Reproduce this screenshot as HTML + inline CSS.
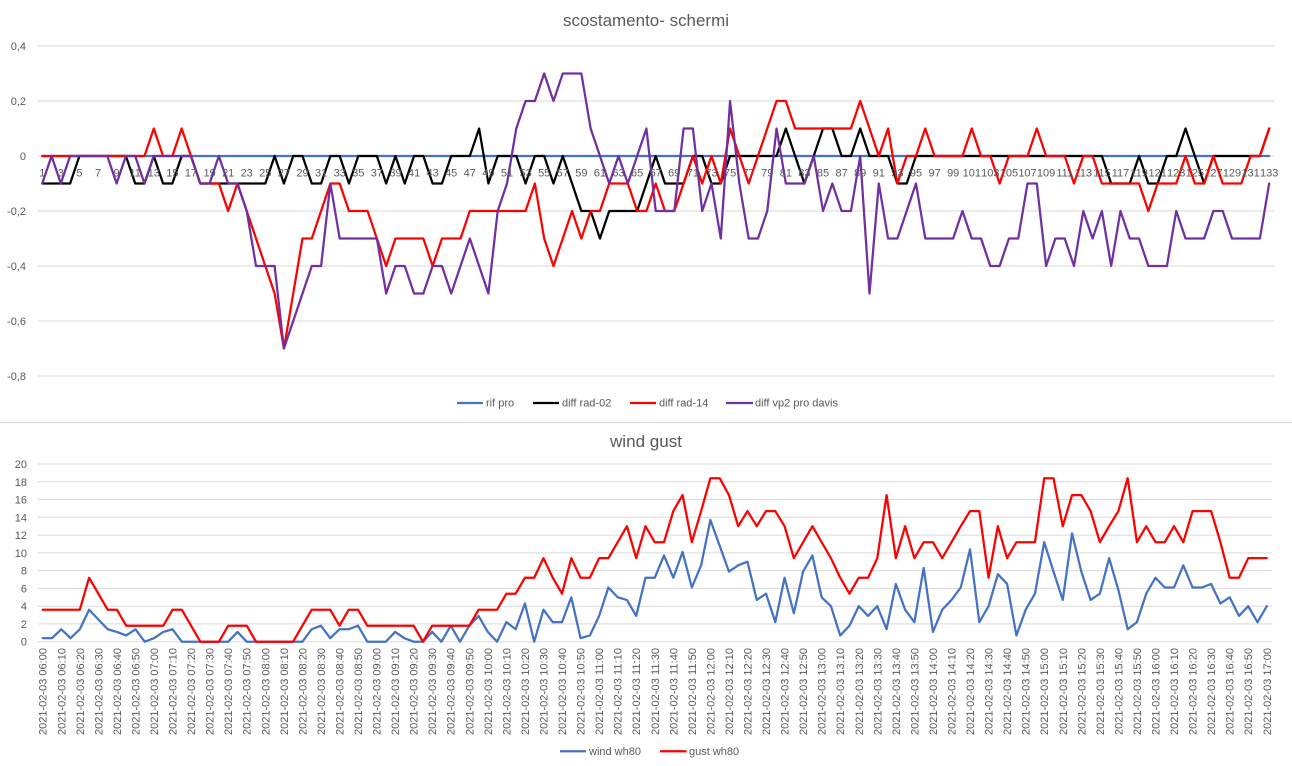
<!DOCTYPE html>
<html><head><meta charset="utf-8"><style>
html,body{margin:0;padding:0;background:#fff;}
svg{display:block;font-family:"Liberation Sans",sans-serif;}
.t{fill:#595959;}
.g{stroke:#D9D9D9;stroke-width:1;}
.s{fill:none;stroke-width:2.25;stroke-linejoin:round;stroke-linecap:round;vector-effect:non-scaling-stroke;}
</style></head><body>
<svg width="1292" height="766" viewBox="0 0 1292 766" xmlns="http://www.w3.org/2000/svg">
<rect width="1292" height="766" fill="#fff"/>
<!-- TOP CHART -->
<text class="t" x="646" y="26" font-size="17" text-anchor="middle" textLength="166" lengthAdjust="spacingAndGlyphs">scostamento- schermi</text>
<g class="g">
<line x1="38" y1="46" x2="1274" y2="46"/><line x1="38" y1="101" x2="1274" y2="101"/><line x1="38" y1="156" x2="1274" y2="156"/><line x1="38" y1="211" x2="1274" y2="211"/><line x1="38" y1="266" x2="1274" y2="266"/><line x1="38" y1="321" x2="1274" y2="321"/><line x1="38" y1="376" x2="1274" y2="376"/>
</g>
<g class="t" font-size="11" text-anchor="end">
<text x="26" y="50">0,4</text><text x="26" y="105">0,2</text><text x="26" y="160">0</text><text x="26" y="215">-0,2</text><text x="26" y="270">-0,4</text><text x="26" y="325">-0,6</text><text x="26" y="380">-0,8</text>
</g>
<g transform="matrix(9.295 0 0 -275 32.95 156)">
<polyline class="s" stroke="#4472C4" points="1,0 133,0"/>
<polyline class="s" stroke="#000000" points="1,-0.1 4,-0.1 5,0 10,0 11,-0.1 12,-0.1 13,0 14,-0.1 15,-0.1 16,0 17,0 18,-0.1 25,-0.1 26,0 27,-0.1 28,0 29,0 30,-0.1 31,-0.1 32,0 33,0 34,-0.1 35,0 37,0 38,-0.1 39,0 40,-0.1 41,0 42,0 43,-0.1 44,-0.1 45,0 47,0 48,0.1 49,-0.1 50,0 52,0 53,-0.1 54,0 55,0 56,-0.1 57,0 58,-0.1 59,-0.2 60,-0.2 61,-0.3 62,-0.2 65,-0.2 66,-0.1 67,0 68,-0.1 70,-0.1 71,0 72,0 73,-0.1 74,-0.1 75,0 80,0 81,0.1 82,0 83,-0.1 84,0 85,0.1 86,0.1 87,0 88,0 89,0.1 90,0 92,0 93,-0.1 94,-0.1 95,0 115,0 116,-0.1 118,-0.1 119,0 120,-0.1 121,-0.1 122,0 123,0 124,0.1 125,0 126,-0.1 127,0 132,0 133,0.1"/>
<polyline class="s" stroke="#FF0000" points="1,0 12,0 13,0.1 14,0 15,0 16,0.1 17,0 18,-0.1 20,-0.1 21,-0.2 22,-0.1 23,-0.2 24,-0.3 25,-0.4 26,-0.5 27,-0.7 28,-0.5 29,-0.3 30,-0.3 31,-0.2 32,-0.1 33,-0.1 34,-0.2 36,-0.2 37,-0.3 38,-0.4 39,-0.3 42,-0.3 43,-0.4 44,-0.3 46,-0.3 47,-0.2 53,-0.2 54,-0.1 55,-0.3 56,-0.4 57,-0.3 58,-0.2 59,-0.3 60,-0.2 61,-0.2 62,-0.1 64,-0.1 65,-0.2 66,-0.2 67,-0.1 68,-0.2 69,-0.2 70,-0.1 71,0 72,-0.1 73,0 74,-0.1 75,0.1 76,0 77,-0.1 78,0 79,0.1 80,0.2 81,0.2 82,0.1 88,0.1 89,0.2 90,0.1 91,0 92,0.1 93,-0.1 94,0 95,0 96,0.1 97,0 100,0 101,0.1 102,0 103,0 104,-0.1 105,0 107,0 108,0.1 109,0 111,0 112,-0.1 113,0 114,0 115,-0.1 119,-0.1 120,-0.2 121,-0.1 123,-0.1 124,0 125,-0.1 126,-0.1 127,0 128,-0.1 130,-0.1 131,0 132,0 133,0.1"/>
<polyline class="s" stroke="#7030A0" points="1,-0.1 2,0 3,-0.1 4,0 8,0 9,-0.1 10,0 11,0 12,-0.1 13,0 17,0 18,-0.1 19,-0.1 20,0 21,-0.1 22,-0.1 23,-0.2 24,-0.4 26,-0.4 27,-0.7 28,-0.6 29,-0.5 30,-0.4 31,-0.4 32,-0.1 33,-0.3 37,-0.3 38,-0.5 39,-0.4 40,-0.4 41,-0.5 42,-0.5 43,-0.4 44,-0.4 45,-0.5 46,-0.4 47,-0.3 48,-0.4 49,-0.5 50,-0.2 51,-0.1 52,0.1 53,0.2 54,0.2 55,0.3 56,0.2 57,0.3 59,0.3 60,0.1 61,0 62,-0.1 63,0 64,-0.1 65,0 66,0.1 67,-0.2 69,-0.2 70,0.1 71,0.1 72,-0.2 73,-0.1 74,-0.3 75,0.2 76,-0.1 77,-0.3 78,-0.3 79,-0.2 80,0.1 81,-0.1 83,-0.1 84,0 85,-0.2 86,-0.1 87,-0.2 88,-0.2 89,0 90,-0.5 91,-0.1 92,-0.3 93,-0.3 94,-0.2 95,-0.1 96,-0.3 99,-0.3 100,-0.2 101,-0.3 102,-0.3 103,-0.4 104,-0.4 105,-0.3 106,-0.3 107,-0.1 108,-0.1 109,-0.4 110,-0.3 111,-0.3 112,-0.4 113,-0.2 114,-0.3 115,-0.2 116,-0.4 117,-0.2 118,-0.3 119,-0.3 120,-0.4 122,-0.4 123,-0.2 124,-0.3 126,-0.3 127,-0.2 128,-0.2 129,-0.3 132,-0.3 133,-0.1"/>
</g>
<g class="t" font-size="11" text-anchor="middle">
<text x="42.3" y="176.5">1</text><text x="60.8" y="176.5">3</text><text x="79.4" y="176.5">5</text><text x="98" y="176.5">7</text><text x="116.6" y="176.5">9</text><text x="135.2" y="176.5">11</text><text x="153.8" y="176.5">13</text><text x="172.4" y="176.5">15</text><text x="191" y="176.5">17</text><text x="209.6" y="176.5">19</text><text x="228.2" y="176.5">21</text><text x="246.7" y="176.5">23</text><text x="265.3" y="176.5">25</text><text x="283.9" y="176.5">27</text><text x="302.5" y="176.5">29</text><text x="321.1" y="176.5">31</text><text x="339.7" y="176.5">33</text><text x="358.3" y="176.5">35</text><text x="376.9" y="176.5">37</text><text x="395.5" y="176.5">39</text><text x="414.1" y="176.5">41</text><text x="432.6" y="176.5">43</text><text x="451.2" y="176.5">45</text><text x="469.8" y="176.5">47</text><text x="488.4" y="176.5">49</text><text x="507" y="176.5">51</text><text x="525.6" y="176.5">53</text><text x="544.2" y="176.5">55</text><text x="562.8" y="176.5">57</text><text x="581.4" y="176.5">59</text><text x="600" y="176.5">61</text><text x="618.5" y="176.5">63</text><text x="637.1" y="176.5">65</text><text x="655.7" y="176.5">67</text><text x="674.3" y="176.5">69</text><text x="692.9" y="176.5">71</text><text x="711.5" y="176.5">73</text><text x="730.1" y="176.5">75</text><text x="748.7" y="176.5">77</text><text x="767.3" y="176.5">79</text><text x="785.9" y="176.5">81</text><text x="804.4" y="176.5">83</text><text x="823" y="176.5">85</text><text x="841.6" y="176.5">87</text><text x="860.2" y="176.5">89</text><text x="878.8" y="176.5">91</text><text x="897.4" y="176.5">93</text><text x="916" y="176.5">95</text><text x="934.6" y="176.5">97</text><text x="953.2" y="176.5">99</text><text x="971.8" y="176.5">101</text><text x="990.3" y="176.5">103</text><text x="1008.9" y="176.5">105</text><text x="1027.5" y="176.5">107</text><text x="1046.1" y="176.5">109</text><text x="1064.7" y="176.5">111</text><text x="1083.3" y="176.5">113</text><text x="1101.9" y="176.5">115</text><text x="1120.5" y="176.5">117</text><text x="1139.1" y="176.5">119</text><text x="1157.7" y="176.5">121</text><text x="1176.2" y="176.5">123</text><text x="1194.8" y="176.5">125</text><text x="1213.4" y="176.5">127</text><text x="1232" y="176.5">129</text><text x="1250.6" y="176.5">131</text><text x="1269.2" y="176.5">133</text>
</g>
<!-- top legend -->
<g stroke-width="2.25">
<line x1="457" y1="403" x2="483" y2="403" stroke="#4472C4"/>
<line x1="533" y1="403" x2="559" y2="403" stroke="#000000"/>
<line x1="630" y1="403" x2="656" y2="403" stroke="#FF0000"/>
<line x1="726" y1="403" x2="753" y2="403" stroke="#7030A0"/>
</g>
<g class="t" font-size="11">
<text x="486" y="406.5">rif pro</text>
<text x="562" y="406.5">diff rad-02</text>
<text x="659" y="406.5">diff rad-14</text>
<text x="755" y="406.5">diff vp2 pro davis</text>
</g>
<line x1="0" y1="422.5" x2="1292" y2="422.5" stroke="#D9D9D9" stroke-width="1"/>
<!-- BOTTOM CHART -->
<text class="t" x="646" y="447" font-size="17" text-anchor="middle" textLength="72" lengthAdjust="spacingAndGlyphs">wind gust</text>
<g class="g">
<line x1="38" y1="464" x2="1272" y2="464"/><line x1="38" y1="481.8" x2="1272" y2="481.8"/><line x1="38" y1="499.5" x2="1272" y2="499.5"/><line x1="38" y1="517.3" x2="1272" y2="517.3"/><line x1="38" y1="535.1" x2="1272" y2="535.1"/><line x1="38" y1="552.9" x2="1272" y2="552.9"/><line x1="38" y1="570.6" x2="1272" y2="570.6"/><line x1="38" y1="588.4" x2="1272" y2="588.4"/><line x1="38" y1="606.2" x2="1272" y2="606.2"/><line x1="38" y1="623.9" x2="1272" y2="623.9"/><line x1="38" y1="641.7" x2="1272" y2="641.7"/>
</g>
<g class="t" font-size="11" text-anchor="end">
<text x="27" y="468">20</text><text x="27" y="485.8">18</text><text x="27" y="503.5">16</text><text x="27" y="521.3">14</text><text x="27" y="539.1">12</text><text x="27" y="556.9">10</text><text x="27" y="574.6">8</text><text x="27" y="592.4">6</text><text x="27" y="610.2">4</text><text x="27" y="627.9">2</text><text x="27" y="645.7">0</text>
</g>
<g transform="matrix(9.273 0 0 -8.885 33.46 641.7)">
<polyline class="s" stroke="#4472C4" points="1,0.4 2,0.4 3,1.4 4,0.4 5,1.4 6,3.6 7,2.5 8,1.4 9,1.1 10,0.7 11,1.4 12,0 13,0.4 14,1.1 15,1.4 16,0 21,0 22,1.1 23,0 29,0 30,1.4 31,1.8 32,0.4 33,1.4 34,1.4 35,1.8 36,0 38,0 39,1.1 40,0.4 41,0 42,0 43,1.1 44,0 45,1.8 46,0 47,1.8 48,2.9 49,1.1 50,0 51,2.2 52,1.4 53,4.3 54,0 55,3.6 56,2.2 57,2.2 58,5 59,0.4 60,0.7 61,2.9 62,6.1 63,5 64,4.7 65,2.9 66,7.2 67,7.2 68,9.7 69,7.2 70,10.1 71,6.1 72,8.6 73,13.7 74,10.8 75,7.9 76,8.6 77,9 78,4.7 79,5.4 80,2.2 81,7.2 82,3.2 83,7.9 84,9.7 85,5 86,4 87,0.7 88,1.8 89,4 90,2.9 91,4 92,1.4 93,6.5 94,3.6 95,2.2 96,8.3 97,1.1 98,3.6 99,4.7 100,6.1 101,10.4 102,2.2 103,4 104,7.6 105,6.5 106,0.7 107,3.6 108,5.4 109,11.2 110,7.9 111,4.7 112,12.2 113,7.9 114,4.7 115,5.4 116,9.4 117,5.8 118,1.4 119,2.2 120,5.4 121,7.2 122,6.1 123,6.1 124,8.6 125,6.1 126,6.1 127,6.5 128,4.3 129,5 130,2.9 131,4 132,2.2 133,4"/>
<polyline class="s" stroke="#FF0000" points="1,3.6 5,3.6 6,7.2 7,5.4 8,3.6 9,3.6 10,1.8 14,1.8 15,3.6 16,3.6 17,1.8 18,0 20,0 21,1.8 23,1.8 24,0 28,0 29,1.8 30,3.6 32,3.6 33,1.8 34,3.6 35,3.6 36,1.8 41,1.8 42,0 43,1.8 47,1.8 48,3.6 50,3.6 51,5.4 52,5.4 53,7.2 54,7.2 55,9.4 56,7.2 57,5.4 58,9.4 59,7.2 60,7.2 61,9.4 62,9.4 63,11.2 64,13 65,9.4 66,13 67,11.2 68,11.2 69,14.7 70,16.5 71,11.2 72,14.7 73,18.4 74,18.4 75,16.5 76,13 77,14.7 78,13 79,14.7 80,14.7 81,13 82,9.4 83,11.2 84,13 85,11.2 86,9.4 87,7.2 88,5.4 89,7.2 90,7.2 91,9.4 92,16.5 93,9.4 94,13 95,9.4 96,11.2 97,11.2 98,9.4 99,11.2 100,13 101,14.7 102,14.7 103,7.2 104,13 105,9.4 106,11.2 108,11.2 109,18.4 110,18.4 111,13 112,16.5 113,16.5 114,14.7 115,11.2 116,13 117,14.7 118,18.4 119,11.2 120,13 121,11.2 122,11.2 123,13 124,11.2 125,14.7 127,14.7 128,11.2 129,7.2 130,7.2 131,9.4 133,9.4"/>
</g>
<g class="t" font-size="11" text-anchor="end">
<text transform="translate(46.7 648) rotate(-90)" textLength="87">2021-02-03 06:00</text>
<text transform="translate(65.3 648) rotate(-90)" textLength="87">2021-02-03 06:10</text>
<text transform="translate(83.8 648) rotate(-90)" textLength="87">2021-02-03 06:20</text>
<text transform="translate(102.4 648) rotate(-90)" textLength="87">2021-02-03 06:30</text>
<text transform="translate(120.9 648) rotate(-90)" textLength="87">2021-02-03 06:40</text>
<text transform="translate(139.5 648) rotate(-90)" textLength="87">2021-02-03 06:50</text>
<text transform="translate(158 648) rotate(-90)" textLength="87">2021-02-03 07:00</text>
<text transform="translate(176.6 648) rotate(-90)" textLength="87">2021-02-03 07:10</text>
<text transform="translate(195.1 648) rotate(-90)" textLength="87">2021-02-03 07:20</text>
<text transform="translate(213.7 648) rotate(-90)" textLength="87">2021-02-03 07:30</text>
<text transform="translate(232.2 648) rotate(-90)" textLength="87">2021-02-03 07:40</text>
<text transform="translate(250.7 648) rotate(-90)" textLength="87">2021-02-03 07:50</text>
<text transform="translate(269.3 648) rotate(-90)" textLength="87">2021-02-03 08:00</text>
<text transform="translate(287.8 648) rotate(-90)" textLength="87">2021-02-03 08:10</text>
<text transform="translate(306.4 648) rotate(-90)" textLength="87">2021-02-03 08:20</text>
<text transform="translate(324.9 648) rotate(-90)" textLength="87">2021-02-03 08:30</text>
<text transform="translate(343.5 648) rotate(-90)" textLength="87">2021-02-03 08:40</text>
<text transform="translate(362 648) rotate(-90)" textLength="87">2021-02-03 08:50</text>
<text transform="translate(380.6 648) rotate(-90)" textLength="87">2021-02-03 09:00</text>
<text transform="translate(399.1 648) rotate(-90)" textLength="87">2021-02-03 09:10</text>
<text transform="translate(417.7 648) rotate(-90)" textLength="87">2021-02-03 09:20</text>
<text transform="translate(436.2 648) rotate(-90)" textLength="87">2021-02-03 09:30</text>
<text transform="translate(454.7 648) rotate(-90)" textLength="87">2021-02-03 09:40</text>
<text transform="translate(473.3 648) rotate(-90)" textLength="87">2021-02-03 09:50</text>
<text transform="translate(491.8 648) rotate(-90)" textLength="87">2021-02-03 10:00</text>
<text transform="translate(510.4 648) rotate(-90)" textLength="87">2021-02-03 10:10</text>
<text transform="translate(528.9 648) rotate(-90)" textLength="87">2021-02-03 10:20</text>
<text transform="translate(547.5 648) rotate(-90)" textLength="87">2021-02-03 10:30</text>
<text transform="translate(566 648) rotate(-90)" textLength="87">2021-02-03 10:40</text>
<text transform="translate(584.6 648) rotate(-90)" textLength="87">2021-02-03 10:50</text>
<text transform="translate(603.1 648) rotate(-90)" textLength="87">2021-02-03 11:00</text>
<text transform="translate(621.7 648) rotate(-90)" textLength="87">2021-02-03 11:10</text>
<text transform="translate(640.2 648) rotate(-90)" textLength="87">2021-02-03 11:20</text>
<text transform="translate(658.8 648) rotate(-90)" textLength="87">2021-02-03 11:30</text>
<text transform="translate(677.3 648) rotate(-90)" textLength="87">2021-02-03 11:40</text>
<text transform="translate(695.8 648) rotate(-90)" textLength="87">2021-02-03 11:50</text>
<text transform="translate(714.4 648) rotate(-90)" textLength="87">2021-02-03 12:00</text>
<text transform="translate(732.9 648) rotate(-90)" textLength="87">2021-02-03 12:10</text>
<text transform="translate(751.5 648) rotate(-90)" textLength="87">2021-02-03 12:20</text>
<text transform="translate(770 648) rotate(-90)" textLength="87">2021-02-03 12:30</text>
<text transform="translate(788.6 648) rotate(-90)" textLength="87">2021-02-03 12:40</text>
<text transform="translate(807.1 648) rotate(-90)" textLength="87">2021-02-03 12:50</text>
<text transform="translate(825.7 648) rotate(-90)" textLength="87">2021-02-03 13:00</text>
<text transform="translate(844.2 648) rotate(-90)" textLength="87">2021-02-03 13:10</text>
<text transform="translate(862.8 648) rotate(-90)" textLength="87">2021-02-03 13:20</text>
<text transform="translate(881.3 648) rotate(-90)" textLength="87">2021-02-03 13:30</text>
<text transform="translate(899.9 648) rotate(-90)" textLength="87">2021-02-03 13:40</text>
<text transform="translate(918.4 648) rotate(-90)" textLength="87">2021-02-03 13:50</text>
<text transform="translate(936.9 648) rotate(-90)" textLength="87">2021-02-03 14:00</text>
<text transform="translate(955.5 648) rotate(-90)" textLength="87">2021-02-03 14:10</text>
<text transform="translate(974 648) rotate(-90)" textLength="87">2021-02-03 14:20</text>
<text transform="translate(992.6 648) rotate(-90)" textLength="87">2021-02-03 14:30</text>
<text transform="translate(1011.1 648) rotate(-90)" textLength="87">2021-02-03 14:40</text>
<text transform="translate(1029.7 648) rotate(-90)" textLength="87">2021-02-03 14:50</text>
<text transform="translate(1048.2 648) rotate(-90)" textLength="87">2021-02-03 15:00</text>
<text transform="translate(1066.8 648) rotate(-90)" textLength="87">2021-02-03 15:10</text>
<text transform="translate(1085.3 648) rotate(-90)" textLength="87">2021-02-03 15:20</text>
<text transform="translate(1103.9 648) rotate(-90)" textLength="87">2021-02-03 15:30</text>
<text transform="translate(1122.4 648) rotate(-90)" textLength="87">2021-02-03 15:40</text>
<text transform="translate(1140.9 648) rotate(-90)" textLength="87">2021-02-03 15:50</text>
<text transform="translate(1159.5 648) rotate(-90)" textLength="87">2021-02-03 16:00</text>
<text transform="translate(1178 648) rotate(-90)" textLength="87">2021-02-03 16:10</text>
<text transform="translate(1196.6 648) rotate(-90)" textLength="87">2021-02-03 16:20</text>
<text transform="translate(1215.1 648) rotate(-90)" textLength="87">2021-02-03 16:30</text>
<text transform="translate(1233.7 648) rotate(-90)" textLength="87">2021-02-03 16:40</text>
<text transform="translate(1252.2 648) rotate(-90)" textLength="87">2021-02-03 16:50</text>
<text transform="translate(1270.8 648) rotate(-90)" textLength="87">2021-02-03 17:00</text>
</g>
<!-- bottom legend -->
<g stroke-width="2.25">
<line x1="560" y1="751.3" x2="586" y2="751.3" stroke="#4472C4"/>
<line x1="660" y1="751.3" x2="686.5" y2="751.3" stroke="#FF0000"/>
</g>
<g class="t" font-size="11">
<text x="589" y="755">wind wh80</text>
<text x="689" y="755">gust wh80</text>
</g>
</svg>
</body></html>
